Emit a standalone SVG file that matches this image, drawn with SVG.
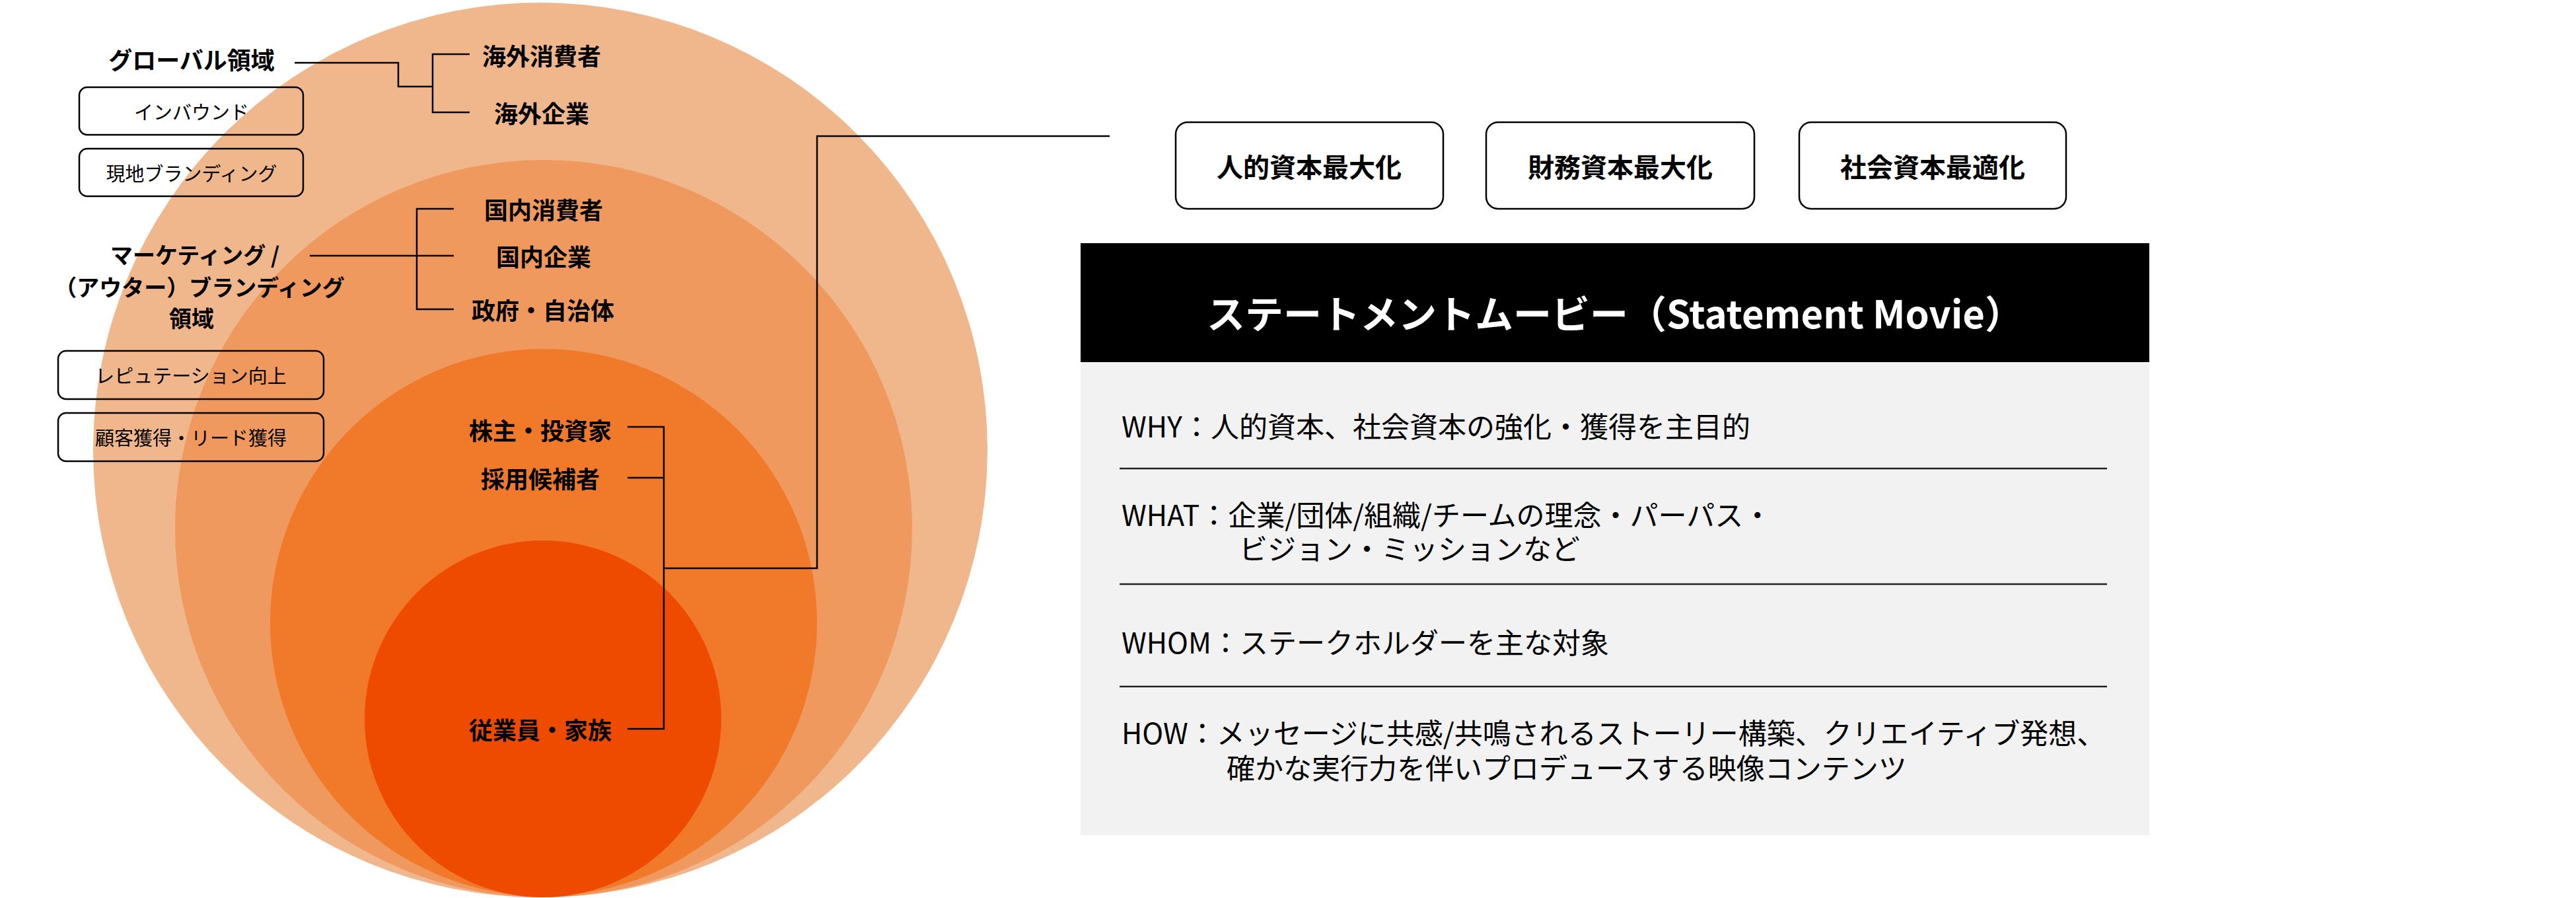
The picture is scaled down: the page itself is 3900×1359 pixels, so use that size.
<svg xmlns="http://www.w3.org/2000/svg" width="3900" height="1359" viewBox="0 0 3900 1359">
<style>
text{font-family:"Noto Sans CJK JP","Noto Sans",sans-serif;dominant-baseline:central;fill:#000}
.lb{font-size:36px;font-weight:bold;text-anchor:middle}
.mk{font-size:34px;font-weight:bold;text-anchor:middle}
.bx{fill:none;stroke:#000;stroke-width:2.5}
.bt{font-size:29px;text-anchor:middle}
.cb{fill:#fff;stroke:#000;stroke-width:2.5}
.ct{font-size:40px;font-weight:bold;text-anchor:middle}
.ln{fill:none;stroke:#000;stroke-width:2.5}
.bd{font-size:43px}
.sep{stroke:#222;stroke-width:2.5}
</style>
<rect width="3900" height="1359" fill="#fff"/>
<g id="circles">
<ellipse cx="818" cy="681" rx="677" ry="677" fill="#F0B78C"/>
<ellipse cx="823" cy="800" rx="558" ry="558" fill="#EF995F"/>
<ellipse cx="823" cy="942" rx="414" ry="414" fill="#F07A2A"/>
<ellipse cx="822" cy="1088" rx="270" ry="270" fill="#EF4B00"/>
</g>
<g id="connectors">
<polyline class="ln" points="446,95 603,95 603,131 655,131"/>
<polyline class="ln" points="711,82 655,82 655,170 711,170"/>
<line class="ln" x1="469" y1="387" x2="687" y2="387"/>
<polyline class="ln" points="687,316 631,316 631,468 687,468"/>
<polyline class="ln" points="950,646 1005,646 1005,1103 950,1103"/>
<line class="ln" x1="950" y1="723" x2="1005" y2="723"/>
<polyline class="ln" points="1005,860 1237,860 1237,206 1680,206"/>
</g>
<g id="global"><text class="lb" x="290" y="89">グローバル領域</text></g>
<g id="inbound"><rect class="bx" x="120" y="132" width="339" height="72" rx="12"/><text class="bt" x="290" y="168">インバウンド</text></g>
<g id="local"><rect class="bx" x="120" y="225" width="339" height="72" rx="12"/><text class="bt" x="290" y="261">現地ブランディング</text></g>
<g id="overseas-consumer"><text class="lb" x="820" y="83">海外消費者</text></g>
<g id="overseas-company"><text class="lb" x="820" y="170">海外企業</text></g>
<g id="marketing"><text class="mk" x="295" y="384">マーケティング /</text><text class="mk" x="302" y="433">（アウター）ブランディング</text><text class="mk" x="290" y="480">領域</text></g>
<g id="domestic-consumer"><text class="lb" x="823" y="316">国内消費者</text></g>
<g id="domestic-company"><text class="lb" x="823" y="387">国内企業</text></g>
<g id="gov"><text class="lb" x="822" y="468">政府・自治体</text></g>
<g id="reputation"><rect class="bx" x="88" y="531" width="402" height="73" rx="12"/><text class="bt" x="289" y="567">レピュテーション向上</text></g>
<g id="lead"><rect class="bx" x="88" y="625" width="402" height="73" rx="12"/><text class="bt" x="289" y="661">顧客獲得・リード獲得</text></g>
<g id="shareholder"><text class="lb" x="818" y="650">株主・投資家</text></g>
<g id="recruit"><text class="lb" x="818" y="723">採用候補者</text></g>
<g id="employee"><text class="lb" x="818" y="1103">従業員・家族</text></g>
<g id="human"><rect class="cb" x="1780" y="185" width="405" height="131" rx="18"/><text class="ct" x="1982" y="251">人的資本最大化</text></g>
<g id="finance"><rect class="cb" x="2250" y="185" width="406" height="131" rx="18"/><text class="ct" x="2453" y="251">財務資本最大化</text></g>
<g id="social"><rect class="cb" x="2724" y="185" width="404" height="131" rx="18"/><text class="ct" x="2926" y="251">社会資本最適化</text></g>
<g id="statement">
<rect x="1636" y="368" width="1618" height="180" fill="#000"/>
<text x="2445" y="472" font-size="58" font-weight="bold" text-anchor="middle" style="fill:#fff">ステートメントムービー（Statement Movie）</text>
<rect x="1636" y="548" width="1618" height="716" fill="#F2F2F2"/>
<text class="bd" x="1698" y="643">WHY：人的資本、社会資本の強化・獲得を主目的</text>
<line class="sep" x1="1695" y1="709" x2="3190" y2="709"/>
<text class="bd" x="1698" y="777">WHAT：企業/団体/組織/チームの理念・パーパス・</text>
<text class="bd" x="1876" y="828">ビジョン・ミッションなど</text>
<line class="sep" x1="1695" y1="884" x2="3190" y2="884"/>
<text class="bd" x="1698" y="970">WHOM：ステークホルダーを主な対象</text>
<line class="sep" x1="1695" y1="1039" x2="3190" y2="1039"/>
<text class="bd" x="1698" y="1107">HOW：メッセージに共感/共鳴されるストーリー構築、クリエイティブ発想、</text>
<text class="bd" x="1857" y="1160">確かな実行力を伴いプロデュースする映像コンテンツ</text>
</g>
</svg>
